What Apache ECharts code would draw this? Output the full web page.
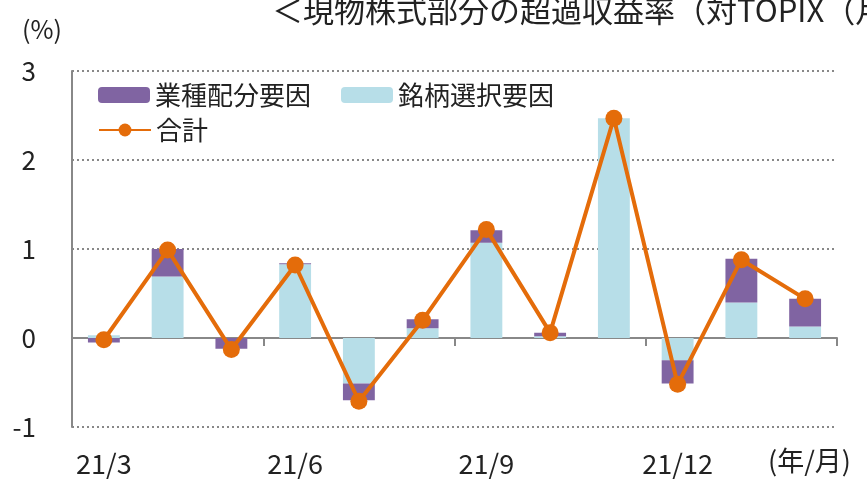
<!DOCTYPE html>
<html>
<head>
<meta charset="utf-8">
<script src="https://cdn.jsdelivr.net/npm/echarts@6/dist/echarts.min.js"></script>
<style>
  html, body { margin: 0; padding: 0; background: #fff; }
  #chart { width: 867px; height: 479px; }
</style>
</head>
<body>
<div id="chart"></div>
<script>
// 月次データ（%）
var months = ["21/3", "21/4", "21/5", "21/6", "21/7", "21/8", "21/9", "21/10", "21/11", "21/12", "22/1", "22/2"];
var sectorAlloc = [-0.05, 0.31, -0.12, 0.01, -0.19, 0.10, 0.14, 0.04, 0.00, -0.26, 0.49, 0.31]; // 業種配分要因
var stockSelect = [0.03, 0.69, 0.00, 0.83, -0.51, 0.11, 1.07, 0.02, 2.47, -0.25, 0.40, 0.13]; // 銘柄選択要因
var total = [-0.02, 0.99, -0.13, 0.82, -0.71, 0.20, 1.22, 0.06, 2.47, -0.52, 0.88, 0.44]; // 合計
var yTicks = [-1, 0, 1, 2, 3];

var font = "'Noto Sans CJK JP', 'Noto Sans', sans-serif";
var chart = echarts.init(document.getElementById("chart"));

var option = {
  animation: false,
  title: {
    text: "＜現物株式部分の超過収益率（対TOPIX（月次））＞",
    left: 272,
    top: -5,
    padding: 0,
    textStyle: { fontFamily: font, fontSize: 31, fontWeight: "normal", color: "#222" }
  },
  grid: { left: 72, right: 30, top: 71, bottom: 52 },
  legend: [
    {
      data: ["業種配分要因", "銘柄選択要因"],
      left: 98,
      top: 82,
      padding: 0,
      itemWidth: 52,
      itemHeight: 16,
      itemGap: 30,
      textStyle: { fontFamily: font, fontSize: 26, color: "#222" }
    },
    {
      data: ["合計"],
      left: 98,
      top: 117,
      padding: 0,
      itemWidth: 52,
      itemHeight: 16,
      textStyle: { fontFamily: font, fontSize: 26, color: "#222" }
    }
  ],
  graphic: [
    { type: "text", left: 22, top: 17, style: { text: "(%)", font: "25px " + font, fill: "#222" } },
    { type: "text", left: 768, top: 447, style: { text: "(年/月)", font: "27px " + font, fill: "#222" } }
  ],
  xAxis: [
    {
      type: "category",
      data: months,
      axisLine: { onZero: true, lineStyle: { color: "#888", width: 2 } },
      axisTick: { show: true, length: 8, interval: 2, lineStyle: { color: "#888", width: 2 } },
      axisLabel: { show: false }
    },
    {
      type: "category",
      data: months,
      position: "bottom",
      axisLine: { show: false },
      axisTick: { show: false },
      axisLabel: { interval: 2, margin: 23, fontFamily: font, fontSize: 27, color: "#222" }
    }
  ],
  yAxis: {
    type: "value",
    min: yTicks[0],
    max: yTicks[yTicks.length - 1],
    interval: 1,
    axisLine: { show: true, lineStyle: { color: "#888", width: 2 } },
    axisTick: { show: false },
    axisLabel: { margin: 36, fontFamily: font, fontSize: 26, color: "#222" },
    splitLine: { lineStyle: { color: "#888", type: [2, 3], width: 2 } }
  },
  series: [
    {
      name: "銘柄選択要因",
      type: "bar",
      stack: "a",
      xAxisIndex: 0,
      data: stockSelect,
      barWidth: "50%",
      itemStyle: { color: "#B7DEE8" }
    },
    {
      name: "業種配分要因",
      type: "bar",
      stack: "a",
      xAxisIndex: 0,
      data: sectorAlloc,
      barWidth: "50%",
      itemStyle: { color: "#8064A2" }
    },
    {
      name: "合計",
      type: "line",
      xAxisIndex: 0,
      data: total,
      symbol: "circle",
      symbolSize: 17,
      lineStyle: { color: "#E46C0A", width: 4 },
      itemStyle: { color: "#E46C0A" }
    }
  ]
};
chart.setOption(option);
</script>
</body>
</html>
